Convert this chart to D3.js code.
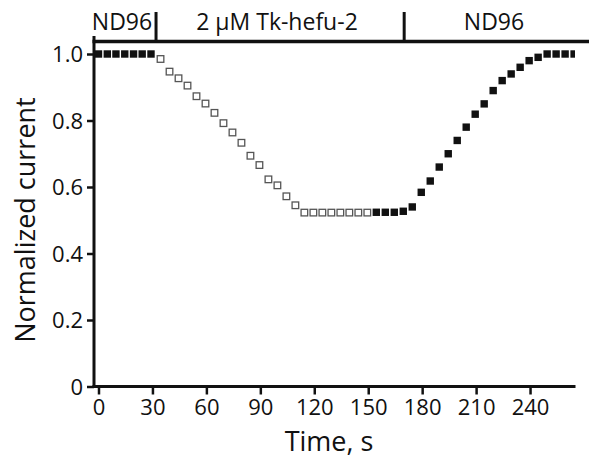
<!DOCTYPE html>
<meta charset="utf-8">
<style>
body { margin: 0; background: #fff; }
text { font-family: "Open Sans", sans-serif; fill: #111; }
.tick text { font-size: 22px; }
.lab { font-size: 27px; }
.sol { font-size: 23px; text-anchor: middle; }
</style>
<svg width="589" height="464"></svg>
<script src="https://cdnjs.cloudflare.com/ajax/libs/d3/7.8.5/d3.min.js"></script>
<script>

// control (ND96) before toxin
var baseTimes  = [0, 4.9, 9.7, 14.6, 19.5, 24.3, 29.2];
var baseValues = [1.0, 1.0, 1.0, 1.0, 1.0, 1.0, 1.0];

// 2 uM Tk-hefu-2 (open squares)
var toxTimes  = [34.5, 39.5, 44.5, 49.5, 54.5, 59.5, 64.5, 69.5, 74.5, 79.5, 84.5, 89.5,
                 94.5, 99.5, 104.5, 109.5, 114.5, 119.5, 124.5, 129.5, 134.5, 139.5, 144.5, 149.5];
var toxValues = [0.985, 0.947, 0.927, 0.905, 0.873, 0.851, 0.823, 0.792, 0.764, 0.733, 0.694, 0.666,
                 0.623, 0.605, 0.572, 0.545, 0.523, 0.523, 0.523, 0.523, 0.523, 0.523, 0.523, 0.523];

// washout (ND96)
var washTimes  = [154.5, 159.5, 164.5, 169.5, 174.5, 179.5, 184.5, 189.5, 194.5, 199.5, 204.5, 209.5,
                  214.5, 219.5, 224.5, 229.5, 234.5, 239.5, 244.5, 249.5, 254.5, 259.5, 264.5];
var washValues = [0.524, 0.524, 0.524, 0.527, 0.54, 0.584, 0.618, 0.66, 0.70, 0.74, 0.78, 0.819,
                  0.85, 0.89, 0.92, 0.94, 0.96, 0.98, 0.99, 1.0, 1.0, 1.0, 1.0];

var xTicks = [0, 30, 60, 90, 120, 150, 180, 210, 240];
var yTicks = [0, 0.2, 0.4, 0.6, 0.8, 1.0];

// solution bar: boundaries in seconds and labels
var solEdges  = [32, 170];
var solLabels = ["ND96", "2 \u00b5M Tk-hefu-2", "ND96"];
var solLabelX = [122, 277, 494];

var svg = d3.select("svg");

var x = d3.scaleLinear().domain([-2.5, 265]).range([94, 575]);
var y = d3.scaleLinear().domain([0, 1]).range([386.5, 54]);

var barY = 41.5;

svg.append("defs").append("clipPath").attr("id", "plot")
  .append("rect").attr("x", 90).attr("y", 44).attr("width", 485).attr("height", 350);

// y axis
var yAxis = svg.append("g")
    .attr("transform", "translate(94,0)")
    .call(d3.axisLeft(y).tickValues(yTicks).tickSize(7).tickPadding(4)
      .tickFormat(function(d) { return d === 0 ? "0" : d3.format(".1f")(d); }));
yAxis.select(".domain").remove();
yAxis.selectAll(".tick line").attr("stroke", "#111").attr("stroke-width", 2.5);
yAxis.selectAll(".tick text").attr("dy", "0.36em");

// x axis
var xAxis = svg.append("g")
    .attr("transform", "translate(0,386.5)")
    .call(d3.axisBottom(x).tickValues(xTicks).tickSize(8).tickPadding(5));
xAxis.select(".domain").remove();
xAxis.selectAll(".tick line").attr("stroke", "#111").attr("stroke-width", 2.5);

// axis lines
svg.append("line").attr("x1", 94).attr("x2", 94).attr("y1", 36).attr("y2", 387.7)
  .attr("stroke", "#111").attr("stroke-width", 3);
svg.append("line").attr("x1", 92.5).attr("x2", 575.5).attr("y1", 386.5).attr("y2", 386.5)
  .attr("stroke", "#111").attr("stroke-width", 3);

// solution bar
svg.append("line").attr("x1", 92.5).attr("x2", 589).attr("y1", barY).attr("y2", barY)
  .attr("stroke", "#111").attr("stroke-width", 3.5);
svg.selectAll(".edge").data(solEdges).enter().append("line")
  .attr("class", "edge")
  .attr("x1", function(d) { return x(d); }).attr("x2", function(d) { return x(d); })
  .attr("y1", 12).attr("y2", barY)
  .attr("stroke", "#111").attr("stroke-width", 3);
svg.selectAll(".sol").data(solLabels).enter().append("text")
  .attr("class", "sol")
  .attr("x", function(d, i) { return solLabelX[i]; })
  .attr("y", 30)
  .text(function(d) { return d; });

// points
var pts = svg.append("g").attr("clip-path", "url(#plot)");
function squares(times, values, open) {
  var s = open ? 6.6 : 7.4;
  pts.append("g").selectAll("rect")
    .data(times.map(function(t, i) { return [t, values[i]]; }))
    .enter().append("rect")
      .attr("x", function(d) { return x(d[0]) - s / 2; })
      .attr("y", function(d) { return y(d[1]) - s / 2; })
      .attr("width", s).attr("height", s)
      .attr("fill", open ? "#fff" : "#111")
      .attr("stroke", open ? "#555" : "none")
      .attr("stroke-width", open ? 1.3 : 0);
}
squares(baseTimes, baseValues, false);
squares(toxTimes, toxValues, true);
squares(washTimes, washValues, false);

// axis titles
svg.append("text").attr("class", "lab")
  .attr("text-anchor", "middle")
  .attr("x", 329).attr("y", 451)
  .text("Time, s");
svg.append("text").attr("class", "lab")
  .attr("text-anchor", "middle")
  .attr("transform", "translate(35,220) rotate(-90)")
  .text("Normalized current");

</script>
